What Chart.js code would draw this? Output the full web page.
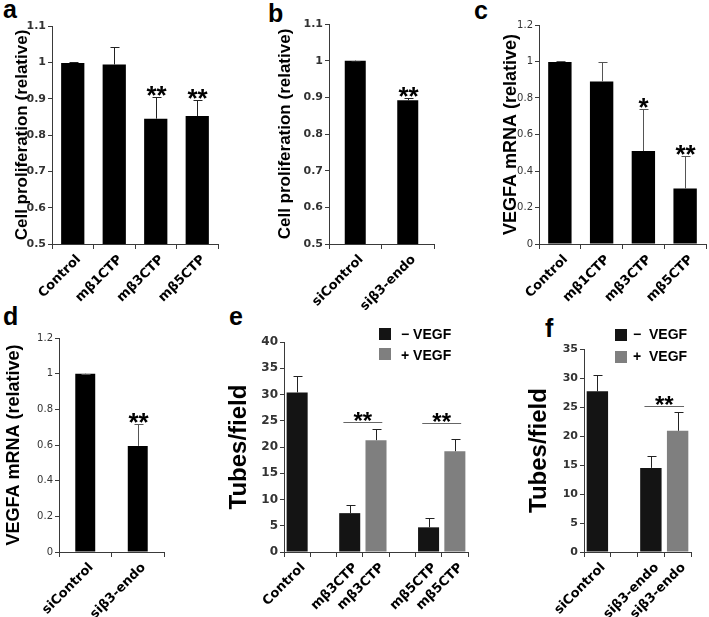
<!DOCTYPE html>
<html>
<head>
<meta charset="utf-8">
<script src="https://cdn.jsdelivr.net/npm/chart.js@4.4.0/dist/chart.umd.min.js"></script>
<style>
  body { margin: 0; background: #fff; }
  #fig { position: relative; width: 709px; height: 617px; overflow: hidden; font-family: "Liberation Sans", Arial, sans-serif; }
  #fig canvas { position: absolute; }
  .letter { position: absolute; font-weight: bold; font-size: 25px; line-height: 25px; color: #000; }
  .key { position: absolute; width: 12px; height: 12px; }
  .keytext { position: absolute; font-weight: bold; font-size: 14px; line-height: 14px; color: #000; white-space: pre; }
</style>
</head>
<body>
<div id="fig">
  <div class="letter" style="left:3px;top:-3px">a</div>
  <div class="letter" style="left:268px;top:1px">b</div>
  <div class="letter" style="left:474px;top:-2px">c</div>
  <div class="letter" style="left:3px;top:304px">d</div>
  <div class="letter" style="left:229px;top:304px">e</div>
  <div class="letter" style="left:545px;top:316px">f</div>

  <canvas id="chartA" width="235" height="310" style="left:0;top:0"></canvas>
  <canvas id="chartB" width="230" height="310" style="left:235px;top:0"></canvas>
  <canvas id="chartC" width="239" height="310" style="left:470px;top:0"></canvas>
  <canvas id="chartD" width="215" height="312" style="left:0;top:305px"></canvas>
  <canvas id="chartE" width="265" height="312" style="left:215px;top:305px"></canvas>
  <canvas id="chartF" width="229" height="312" style="left:480px;top:305px"></canvas>

  <div class="key" style="left:379px;top:328px;background:#141414"></div>
  <div class="keytext" style="left:401px;top:327px">− VEGF</div>
  <div class="key" style="left:379px;top:348px;background:#7f7f7f"></div>
  <div class="keytext" style="left:401px;top:348px">+ VEGF</div>

  <div class="key" style="left:615px;top:329px;background:#141414"></div>
  <div class="keytext" style="left:633px;top:327px">−  VEGF</div>
  <div class="key" style="left:615px;top:351px;background:#7f7f7f"></div>
  <div class="keytext" style="left:633px;top:349px">+  VEGF</div>
</div>

<script>
// a: cell proliferation, CTP peptides
const aLabels = ['Control', 'mβ1CTP', 'mβ3CTP', 'mβ5CTP'];
const aValues = [0.998, 0.994, 0.845, 0.852];
const aErrors = [0.002, 0.048, 0.06, 0.043];
const aStars = ['', '', '**', '**'];
const aTicks = [0.5, 0.6, 0.7, 0.8, 0.9, 1, 1.1];

// b: cell proliferation, siRNA
const bLabels = ['siControl', 'siβ3-endo'];
const bValues = [1.0, 0.892];
const bErrors = [0, 0.007];
const bStars = ['', '**'];
const bTicks = [0.5, 0.6, 0.7, 0.8, 0.9, 1, 1.1];

// c: VEGFA mRNA, CTP peptides
const cLabels = ['Control', 'mβ1CTP', 'mβ3CTP', 'mβ5CTP'];
const cValues = [0.997, 0.891, 0.509, 0.304];
const cErrors = [0.003, 0.106, 0.231, 0.178];
const cStars = ['', '', '*', '**'];
const cTicks = [0, 0.2, 0.4, 0.6, 0.8, 1, 1.2];

// d: VEGFA mRNA, siRNA
const dLabels = ['siControl', 'siβ3-endo'];
const dValues = [1.0, 0.595];
const dErrors = [0, 0.122];
const dStars = ['', '**'];
const dTicks = [0, 0.2, 0.4, 0.6, 0.8, 1, 1.2];

// e: tubes/field, CTP peptides -/+ VEGF
const eLabels = ['Control', '', 'mβ3CTP', 'mβ3CTP', '', 'mβ5CTP', 'mβ5CTP'];
const eMinus = [30.4, null, 7.4, null, null, 4.7, null];
const eMinusErr = [3.1, null, 1.5, null, null, 1.8, null];
const ePlus = [null, null, null, 21.3, null, null, 19.2];
const ePlusErr = [null, null, null, 2.2, null, null, 2.4];
const eTicks = [0, 5, 10, 15, 20, 25, 30, 35, 40];
const eSigFrom = [2, 5];
const eSigTo = [3, 6];
const eSigLevel = [24.7, 24.5];
const eSigText = ['**', '**'];

// f: tubes/field, siRNA -/+ VEGF
const fLabels = ['siControl', '', 'siβ3-endo', 'siβ3-endo'];
const fMinus = [27.7, null, 14.5, null];
const fMinusErr = [2.9, null, 2.0, null];
const fPlus = [null, null, null, 20.9];
const fPlusErr = [null, null, null, 3.3];
const fTicks = [0, 5, 10, 15, 20, 25, 30, 35];
const fSigFrom = [2];
const fSigTo = [3];
const fSigLevel = [25.2];
const fSigText = ['**'];

const AXIS = '#3a3a3a';
const BLACK = '#000000';
const DARK = '#141414';
const GREY = '#7f7f7f';

// error bars (upper only), stars and significance lines
const extras = {
    id: 'extras',
    defaults: { errColor: '#222', starSize: 26, sigFrom: [], sigTo: [], sigLevel: [], sigText: [] },
    afterDatasetsDraw(chart, args, opts) {
        const ctx = chart.ctx;
        const yScale = chart.scales.y;
        const drop = opts.starSize * 0.4;
        ctx.save();
        ctx.lineWidth = 1;
        ctx.textAlign = 'center';
        ctx.textBaseline = 'alphabetic';
        ctx.font = 'bold ' + opts.starSize + 'px "Liberation Sans", Arial';
        chart.data.datasets.forEach((ds, di) => {
            const bars = chart.getDatasetMeta(di).data;
            ds.data.forEach((v, i) => {
                if (v === null) return;
                const x = Math.round(bars[i].x) + 0.5;
                const top = Math.round(yScale.getPixelForValue(v + (ds.errors[i] || 0))) + 0.5;
                ctx.strokeStyle = opts.errColor;
                ctx.beginPath();
                ctx.moveTo(x, bars[i].y);
                ctx.lineTo(x, top);
                ctx.moveTo(x - 4, top);
                ctx.lineTo(x + 5, top);
                ctx.stroke();
                if (ds.stars && ds.stars[i]) {
                    ctx.fillStyle = '#000';
                    ctx.fillText(ds.stars[i], x, top - 4 + drop);
                }
            });
        });
        opts.sigFrom.forEach((from, k) => {
            const find = idx => {
                for (let di = 0; di < chart.data.datasets.length; di++) {
                    if (chart.data.datasets[di].data[idx] !== null) return chart.getDatasetMeta(di).data[idx];
                }
            };
            const b1 = find(from);
            const b2 = find(opts.sigTo[k]);
            const y = Math.round(yScale.getPixelForValue(opts.sigLevel[k])) + 0.5;
            const x1 = b1.x - 0.3 * b1.width;
            const x2 = b2.x + 0.3 * b2.width;
            ctx.strokeStyle = '#666';
            ctx.beginPath();
            ctx.moveTo(x1, y);
            ctx.lineTo(x2, y);
            ctx.stroke();
            ctx.fillStyle = '#000';
            ctx.fillText(opts.sigText[k], (x1 + x2) / 2, y - 3 + drop);
        });
        ctx.restore();
    }
};
Chart.register(extras);

function yAxis(ticks, title, tickFont, titleSize, titlePad, width) {
    return {
        min: ticks[0],
        max: ticks[ticks.length - 1],
        afterBuildTicks: scale => { scale.ticks = ticks.map(v => ({ value: v })); },
        afterFit: scale => { scale.width = width; },
        grid: { drawOnChartArea: false, tickLength: 4, color: AXIS },
        border: { color: AXIS },
        ticks: { font: tickFont, color: '#333', padding: 2, callback: v => String(v) },
        title: {
            display: true,
            text: title,
            color: '#000',
            font: { family: '"Liberation Sans", Arial', size: titleSize, weight: 'bold' },
            padding: { top: titlePad, bottom: 0 }
        }
    };
}

function xAxis(height) {
    return {
        afterFit: scale => { scale.height = height; },
        grid: { drawOnChartArea: false, tickLength: 5, color: AXIS, offset: true },
        border: { color: AXIS },
        ticks: {
            font: { family: '"DejaVu Sans"', size: 13, weight: 'bold' },
            color: '#000', minRotation: 45, maxRotation: 45, padding: 3, labelOffset: 6, autoSkip: false
        }
    };
}

function makeChart(id, labels, datasets, layout, y, x, extraOpts) {
    return new Chart(document.getElementById(id), {
        type: 'bar',
        data: { labels: labels, datasets: datasets },
        options: {
            responsive: false,
            animation: false,
            layout: { padding: layout },
            scales: { x: x, y: y },
            plugins: { legend: { display: false }, tooltip: { enabled: false }, extras: extraOpts }
        }
    });
}

const boldTicks = { family: '"DejaVu Sans"', size: 11, weight: 'bold' };
const plainTicks = { family: '"DejaVu Sans"', size: 10 };

makeChart('chartA', aLabels,
    [{ data: aValues, errors: aErrors, stars: aStars, backgroundColor: BLACK, barPercentage: 0.56, categoryPercentage: 1 }],
    { left: 0, top: 26, right: 17, bottom: 0 },
    yAxis(aTicks, 'Cell proliferation (relative)', boldTicks, 17, 12, 52),
    xAxis(66), { errColor: '#222' });

makeChart('chartB', bLabels,
    [{ data: bValues, errors: bErrors, stars: bStars, backgroundColor: BLACK, barPercentage: 0.4, categoryPercentage: 1 }],
    { left: 0, top: 24, right: 31, bottom: 0 },
    yAxis(bTicks, 'Cell proliferation (relative)', boldTicks, 17, 40, 94),
    xAxis(66), { errColor: '#222' });

makeChart('chartC', cLabels,
    [{ data: cValues, errors: cErrors, stars: cStars, backgroundColor: BLACK, barPercentage: 0.56, categoryPercentage: 1 }],
    { left: 0, top: 25, right: 3, bottom: 0 },
    yAxis(cTicks, 'VEGFA mRNA (relative)', plainTicks, 18, 30, 69),
    xAxis(66), { errColor: '#555' });

makeChart('chartD', dLabels,
    [{ data: dValues, errors: dErrors, stars: dStars, backgroundColor: BLACK, barPercentage: 0.38, categoryPercentage: 1 }],
    { left: 0, top: 33, right: 51, bottom: 0 },
    yAxis(dTicks, 'VEGFA mRNA (relative)', plainTicks, 18, 3, 59),
    xAxis(65), { errColor: '#555' });

makeChart('chartE', eLabels,
    [
        { label: '− VEGF', data: eMinus, errors: eMinusErr, backgroundColor: DARK, barPercentage: 0.8, categoryPercentage: 1, skipNull: true },
        { label: '+ VEGF', data: ePlus, errors: ePlusErr, backgroundColor: GREY, barPercentage: 0.8, categoryPercentage: 1, skipNull: true }
    ],
    { left: 0, top: 37, right: 12, bottom: 0 },
    yAxis(eTicks, 'Tubes/field', { family: '"DejaVu Sans"', size: 12, weight: 'bold' }, 24, 10, 69),
    xAxis(65),
    { errColor: '#222', starSize: 24, sigFrom: eSigFrom, sigTo: eSigTo, sigLevel: eSigLevel, sigText: eSigText });

makeChart('chartF', fLabels,
    [
        { label: '− VEGF', data: fMinus, errors: fMinusErr, backgroundColor: DARK, barPercentage: 0.8, categoryPercentage: 1, skipNull: true },
        { label: '+ VEGF', data: fPlus, errors: fPlusErr, backgroundColor: GREY, barPercentage: 0.8, categoryPercentage: 1, skipNull: true }
    ],
    { left: 0, top: 44, right: 18, bottom: 0 },
    yAxis(fTicks, 'Tubes/field', boldTicks, 24, 45, 104),
    xAxis(65),
    { errColor: '#222', starSize: 24, sigFrom: fSigFrom, sigTo: fSigTo, sigLevel: fSigLevel, sigText: fSigText });
</script>
</body>
</html>
